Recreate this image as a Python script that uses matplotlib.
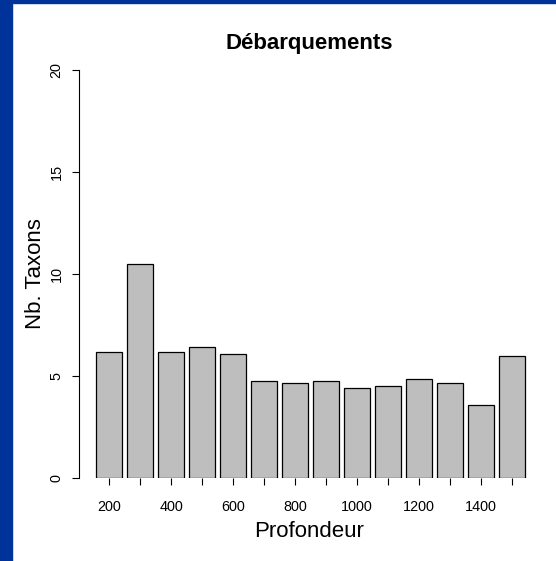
import numpy as np
import matplotlib
matplotlib.use("Agg")
import matplotlib.pyplot as plt
from matplotlib.patches import Rectangle

plt.rcParams['font.family'] = ['Liberation Sans', 'DejaVu Sans']

profondeur = [200, 300, 400, 500, 600, 700, 800, 900, 1000, 1100, 1200, 1300, 1400, 1500]
nb_taxons = [6.2, 10.5, 6.2, 6.4, 6.1, 4.75, 4.65, 4.75, 4.4, 4.5, 4.85, 4.65, 3.6, 6.0]
yticks = [0, 5, 10, 15, 20]

fig = plt.figure(figsize=(5.56, 5.61), dpi=100)
# blue frame on the left and top
fig.patches.append(Rectangle((0, 0), 12 / 556, 1, transform=fig.transFigure,
                             color='#003399', zorder=0))
fig.patches.append(Rectangle((0, 1 - 3 / 561), 1, 3 / 561, transform=fig.transFigure,
                             color='#003399', zorder=0))

ax = fig.add_axes([79 / 556, 83 / 561, 460 / 556, 408 / 561])
x = np.arange(len(profondeur))
ax.bar(x, nb_taxons, width=1 / 1.2, color='#BEBEBE', edgecolor='black', linewidth=0.9)

ax.set_xlim(-30 / 31, 430 / 31)
ax.set_ylim(0, 20)

for s in ['top', 'right', 'bottom']:
    ax.spines[s].set_visible(False)
ax.spines['left'].set_linewidth(0.8)

ax.set_yticks(yticks)
ax.set_yticklabels([str(v) for v in yticks], rotation=90, va='center')
ax.set_xticks(x)
ax.set_xticklabels([str(p) if i % 2 == 0 else '' for i, p in enumerate(profondeur)])
ax.tick_params(axis='y', length=5, width=0.8, labelsize=10.4, pad=6)
ax.tick_params(axis='x', length=5, width=0.8, labelsize=10.4, pad=11)

ax.set_xlabel('Profondeur', fontsize=16, labelpad=5)
ax.set_ylabel('Nb. Taxons', fontsize=16, labelpad=3)
ax.set_title('Débarquements', fontsize=16, fontweight='bold', pad=15)

fig.savefig('out.png', dpi=100)
